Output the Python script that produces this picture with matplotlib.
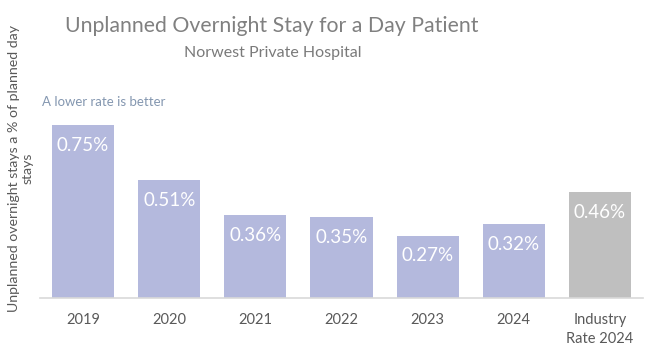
import matplotlib
matplotlib.use("Agg")
import matplotlib.pyplot as plt

categories = ["2019", "2020", "2021", "2022", "2023", "2024", "Industry\nRate 2024"]
values = [0.75, 0.51, 0.36, 0.35, 0.27, 0.32, 0.46]
labels = ["0.75%", "0.51%", "0.36%", "0.35%", "0.27%", "0.32%", "0.46%"]
colors = ["#B4B9DD"] * 6 + ["#BFBFBF"]

fig = plt.figure(figsize=(6.56, 3.52), dpi=100)
ax = fig.add_axes([40/656, 54/352, 603/656, 198/352])
x = list(range(len(categories)))
ax.bar(x, values, width=0.72, color=colors)
ax.set_xlim(-0.5, len(categories) - 0.5)
ax.set_ylim(0, 0.857)
for xi, v, lab in zip(x, values, labels):
    ax.text(xi, v - 0.088, lab, ha="center", va="center", color="white",
            fontsize=13.5, family="Lato")
ax.set_xticks(x)
ax.set_xticklabels(categories, fontsize=10.5, color="#595959", family="Lato",
                   linespacing=1.45)
ax.tick_params(axis="x", length=0, pad=11)
ax.set_yticks([])
for s in ["top", "right", "left"]:
    ax.spines[s].set_visible(False)
ax.spines["bottom"].set_color("#D9D9D9")
ax.spines["bottom"].set_linewidth(1.2)

fig.text(272/656, 1 - 26/352, "Unplanned Overnight Stay for a Day Patient",
         ha="center", va="center", fontsize=15.3, color="#808080",
         family="Lato")
fig.text(273/656, 1 - 53/352, "Norwest Private Hospital",
         ha="center", va="center", fontsize=11.5, color="#7A7A7A",
         family="Lato")
fig.text(42/656, 1 - 102/352, "A lower rate is better", ha="left", va="center",
         fontsize=9.5, color="#8497B0", family="Lato")
fig.text(21/656, 1 - 168/352, "Unplanned overnight stays a % of planned day\nstays",
         ha="center", va="center", rotation=90, fontsize=10.2, color="#595959",
         family="Lato", linespacing=1.1)

fig.savefig("out.png", dpi=100)
